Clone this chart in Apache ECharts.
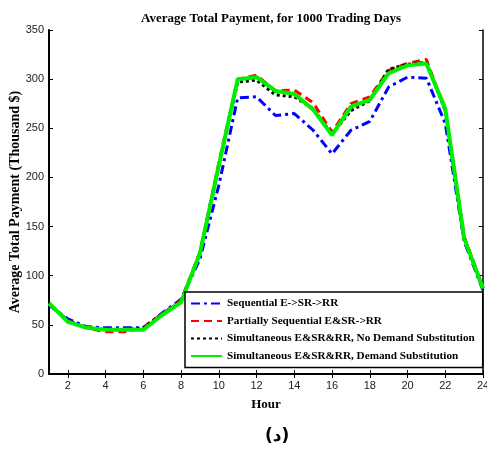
<!DOCTYPE html>
<html>
<head>
<meta charset="utf-8">
<script src="https://cdn.jsdelivr.net/npm/echarts@6/dist/echarts.min.js"></script>
<style>
  html, body { margin: 0; padding: 0; background: #fff; }
  #chart { width: 487px; height: 454px; }
</style>
</head>
<body>
<div id="chart"></div>
<script>
// hours 1..24
const hours = Array.from({length: 24}, (_, i) => String(i + 1));

const sequential = [70, 56, 48, 47, 47, 47, 62, 76, 117, 192, 281, 282, 263, 265, 248, 224, 248, 257, 292, 302, 301, 255, 135, 85];
const partial    = [72, 54, 47, 43, 43, 47, 61, 75, 124, 215, 300, 304, 288, 289, 276, 246, 275, 282, 309, 316, 320, 268, 140, 88];
const simNoSub   = [72, 54, 47, 45, 45, 47, 61, 74, 122, 212, 297, 299, 284, 282, 270, 244, 268, 278, 310, 315, 317, 268, 139, 87];
const simSub     = [72, 53, 47, 45, 45, 45, 60, 73, 123, 212, 300, 302, 288, 285, 269, 243, 272, 279, 306, 314, 316, 270, 138, 87];

const seriesNames = [
  'Sequential E->SR->RR',
  'Partially Sequential E&SR->RR',
  'Simultaneous E&SR&RR, No Demand Substitution',
  'Simultaneous E&SR&RR, Demand Substitution'
];

const serif = '"Liberation Serif", "DejaVu Serif", serif';
const sans = '"Liberation Sans", Arial, sans-serif';

let chart = echarts.init(document.getElementById('chart'));

function line(name, data, color, width, type) {
  return {
    name: name,
    type: 'line',
    data: data,
    symbol: 'none',
    xAxisIndex: 0,
    yAxisIndex: 0,
    lineStyle: {color: color, width: width, type: type},
    itemStyle: {color: color},
    animation: false
  };
}

let oddOnly = (i) => i % 2 === 1;

let option = {
  animation: false,
  title: {
    text: 'Average Total Payment, for 1000 Trading Days',
    left: 266,
    textAlign: 'center',
    top: 7,
    textStyle: {fontFamily: serif, fontWeight: 'bold', fontSize: 13, color: '#000'}
  },
  grid: {left: 49, right: 4, top: 30, bottom: 80, outerBoundsMode: 'none', containLabel: false},
  legend: {
    orient: 'vertical',
    left: 185,
    top: 292,
    padding: [6, 8, 6, 5],
    itemGap: 6.5,
    itemWidth: 31,
    itemHeight: 12,
    itemStyle: {opacity: 0},
    backgroundColor: '#fff',
    borderColor: '#000',
    borderWidth: 1.5,
    textStyle: {fontFamily: serif, fontWeight: 'bold', fontSize: 11.2, color: '#000'},
    data: seriesNames
  },
  xAxis: [
    {
      type: 'category',
      data: hours,
      boundaryGap: false,
      position: 'bottom',
      name: 'Hour',
      nameLocation: 'middle',
      nameGap: 24,
      nameMoveOverlap: false,
      nameTextStyle: {fontFamily: serif, fontWeight: 'bold', fontSize: 13, color: '#000'},
      axisLine: {lineStyle: {color: '#000', width: 2}},
      axisTick: {inside: true, length: 4, interval: oddOnly, lineStyle: {color: '#000'}},
      axisLabel: {interval: oddOnly, fontFamily: sans, fontSize: 11, color: '#222', margin: 6},
      splitLine: {show: false}
    },
    {
      type: 'category',
      data: hours,
      boundaryGap: false,
      position: 'top',
      axisLine: {lineStyle: {color: '#000', width: 1.5}},
      axisTick: {inside: true, length: 4, interval: oddOnly, lineStyle: {color: '#000'}},
      axisLabel: {show: false},
      splitLine: {show: false}
    }
  ],
  yAxis: [
    {
      type: 'value',
      min: 0,
      max: 350,
      interval: 50,
      position: 'left',
      name: 'Average Total Payment (Thousand $)',
      nameLocation: 'middle',
      nameGap: 27,
      nameMoveOverlap: false,
      nameTextStyle: {fontFamily: serif, fontWeight: 'bold', fontSize: 14, color: '#000'},
      axisLine: {show: true, lineStyle: {color: '#000', width: 2}},
      axisTick: {show: true, inside: true, length: 4, lineStyle: {color: '#000'}},
      axisLabel: {fontFamily: sans, fontSize: 11, color: '#222', margin: 5},
      splitLine: {show: false}
    },
    {
      type: 'value',
      min: 0,
      max: 350,
      interval: 50,
      position: 'right',
      axisLine: {show: true, lineStyle: {color: '#000', width: 1.5}},
      axisTick: {show: true, inside: true, length: 4, lineStyle: {color: '#000'}},
      axisLabel: {show: false},
      splitLine: {show: false}
    }
  ],
  series: [
    line(seriesNames[0], sequential, '#0000ff', 3, [9, 4, 3, 4]),
    line(seriesNames[1], partial, '#ff0000', 3, [8, 5]),
    line(seriesNames[2], simNoSub, '#000000', 3, [3, 3]),
    line(seriesNames[3], simSub, '#00ee00', 4, 'solid')
  ],
  graphic: [
    {
      type: 'text',
      left: 265,
      top: 428,
      style: {text: '(د)', font: 'bold 17px "DejaVu Sans", sans-serif', fill: '#000'}
    }
  ]
};

chart.setOption(option);
</script>
</body>
</html>
